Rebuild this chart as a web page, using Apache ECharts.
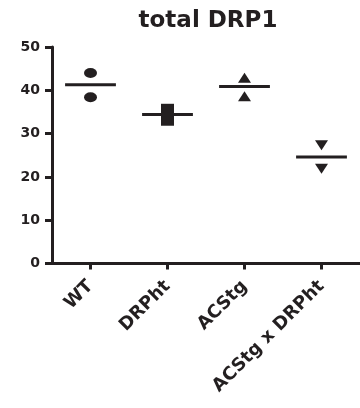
<!DOCTYPE html>
<html>
<head>
<meta charset="utf-8">
<script src="https://cdn.jsdelivr.net/npm/echarts@6/dist/echarts.min.js"></script>
<style>
  html, body { margin: 0; padding: 0; background: #fff; }
  #chart { width: 360px; height: 408px; }
</style>
</head>
<body>
<div id="chart"></div>
<script>
const categories = ['WT', 'DRPht', 'ACStg', 'ACStg x DRPht'];
const wtValues = [44.0, 38.4];
const drphtValues = [35.5, 33.2];
const acstgValues = [42.9, 38.6];
const acstgDrphtValues = [27.3, 21.9];
const groupMeans = [41.3, 34.4, 40.9, 24.6];
const yTicks = [0, 10, 20, 30, 40, 50];

const ink = '#231f20';
const font = '"DejaVu Sans", "Liberation Sans", Arial, sans-serif';

function pts(catIdx, vals) { return vals.map(v => [catIdx, v]); }

const chart = echarts.init(document.getElementById('chart'), null, { renderer: 'canvas' });
chart.setOption({
  animation: false,
  backgroundColor: '#fff',
  title: {
    text: 'total DRP1',
    left: 203,
    top: 5,
    textAlign: 'center',
    textStyle: { fontFamily: font, fontWeight: 'bold', fontSize: 23, color: ink }
  },
  grid: { left: 52, right: -5, top: 47, bottom: 144.5, containLabel: false },
  xAxis: {
    type: 'category',
    data: categories,
    boundaryGap: true,
    axisLine: { show: true, lineStyle: { color: ink, width: 3 } },
    axisTick: { show: true, alignWithLabel: true, length: 6, lineStyle: { color: ink, width: 3 } },
    axisLabel: { rotate: 45, margin: 20, fontFamily: font, fontWeight: 'bold', fontSize: 18, color: ink, interval: 0 },
    splitLine: { show: false }
  },
  yAxis: {
    type: 'value',
    min: yTicks[0],
    max: yTicks[yTicks.length - 1],
    interval: 10,
    axisLine: { show: true, lineStyle: { color: ink, width: 3 } },
    axisTick: { show: true, length: 7, lineStyle: { color: ink, width: 3 } },
    axisLabel: { margin: 12, fontFamily: font, fontWeight: 'bold', fontSize: 14, color: ink },
    splitLine: { show: false }
  },
  series: [
    { type: 'scatter', data: pts(0, wtValues), symbol: 'circle', symbolSize: [13, 10], itemStyle: { color: ink, opacity: 1 } },
    { type: 'scatter', data: pts(1, drphtValues), symbol: 'rect', symbolSize: [13, 12], itemStyle: { color: ink, opacity: 1 } },
    { type: 'scatter', data: pts(2, acstgValues), symbol: 'triangle', symbolSize: [13, 10], itemStyle: { color: ink, opacity: 1 } },
    { type: 'scatter', data: pts(3, acstgDrphtValues), symbol: 'triangle', symbolRotate: 180, symbolSize: [13, 10], itemStyle: { color: ink, opacity: 1 } },
    {
      type: 'custom',
      data: groupMeans.map((m, i) => [i, m]),
      z: 5,
      renderItem: function (params, api) {
        const c = api.coord([api.value(0), api.value(1)]);
        const half = api.size([1, 0])[0] * 0.33;
        return {
          type: 'line',
          shape: { x1: c[0] - half, y1: c[1], x2: c[0] + half, y2: c[1] },
          style: { stroke: ink, lineWidth: 3 }
        };
      }
    }
  ]
});
</script>
</body>
</html>
